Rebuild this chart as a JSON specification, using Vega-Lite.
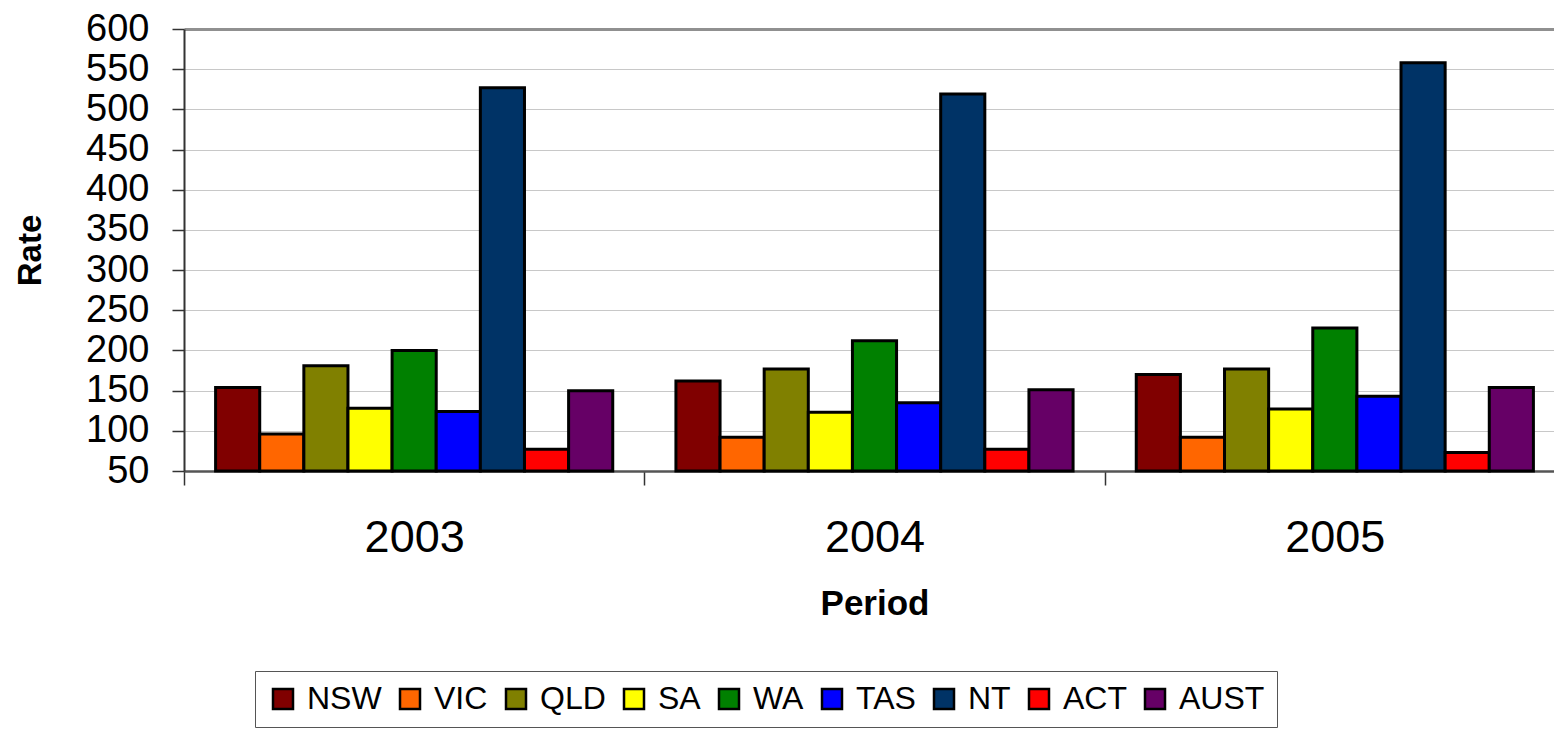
{
  "$schema": "https://vega.github.io/schema/vega-lite/v6.json",
  "autosize": {"type": "none"},
  "width": 1370,
  "height": 442,
  "padding": {"left": 184, "top": 29, "right": 0, "bottom": 261},
  "background": "white",
  "config": {
    "font": "Liberation Sans",
    "view": {"stroke": null}
  },
  "data": {
    "values": [
      {"period": "2003", "state": "NSW", "rate": 154},
      {"period": "2003", "state": "VIC", "rate": 96},
      {"period": "2003", "state": "QLD", "rate": 181},
      {"period": "2003", "state": "SA", "rate": 128},
      {"period": "2003", "state": "WA", "rate": 200},
      {"period": "2003", "state": "TAS", "rate": 124},
      {"period": "2003", "state": "NT", "rate": 527},
      {"period": "2003", "state": "ACT", "rate": 77},
      {"period": "2003", "state": "AUST", "rate": 150},
      {"period": "2004", "state": "NSW", "rate": 162},
      {"period": "2004", "state": "VIC", "rate": 92},
      {"period": "2004", "state": "QLD", "rate": 177},
      {"period": "2004", "state": "SA", "rate": 123},
      {"period": "2004", "state": "WA", "rate": 212},
      {"period": "2004", "state": "TAS", "rate": 135},
      {"period": "2004", "state": "NT", "rate": 519},
      {"period": "2004", "state": "ACT", "rate": 77},
      {"period": "2004", "state": "AUST", "rate": 151},
      {"period": "2005", "state": "NSW", "rate": 170},
      {"period": "2005", "state": "VIC", "rate": 92},
      {"period": "2005", "state": "QLD", "rate": 177},
      {"period": "2005", "state": "SA", "rate": 127},
      {"period": "2005", "state": "WA", "rate": 228},
      {"period": "2005", "state": "TAS", "rate": 143},
      {"period": "2005", "state": "NT", "rate": 558},
      {"period": "2005", "state": "ACT", "rate": 73},
      {"period": "2005", "state": "AUST", "rate": 154}
    ]
  },
  "mark": {"type": "bar", "stroke": "black", "strokeWidth": 3},
  "encoding": {
    "x": {
      "field": "period",
      "type": "nominal",
      "scale": {"range": [0, 1381], "paddingInner": 0, "paddingOuter": 0},
      "axis": {
        "title": "Period",
        "titleFont": "Liberation Sans",
        "titleFontSize": 35,
        "titleFontWeight": "bold",
        "titleColor": "black",
        "titlePadding": 26,
        "labelAngle": 0,
        "labelFontSize": 45,
        "labelColor": "black",
        "labelPadding": 30,
        "tickSize": 14,
        "tickBand": "extent",
        "tickColor": "#333333",
        "tickWidth": 1.5,
        "domainColor": "#555555",
        "domainWidth": 2.5
      }
    },
    "xOffset": {
      "field": "state",
      "type": "nominal",
      "sort": ["NSW", "VIC", "QLD", "SA", "WA", "TAS", "NT", "ACT", "AUST"],
      "scale": {"paddingInner": 0, "paddingOuter": 0.716}
    },
    "y": {
      "field": "rate",
      "type": "quantitative",
      "scale": {"domain": [50, 600], "nice": false, "zero": false},
      "axis": {
        "title": "Rate",
        "titleFontSize": 33,
        "titleFontWeight": "bold",
        "titleColor": "black",
        "titlePadding": 38,
        "values": [50, 100, 150, 200, 250, 300, 350, 400, 450, 500, 550, 600],
        "labelFontSize": 38,
        "labelColor": "black",
        "labelOverlap": false,
        "labelPadding": 23,
        "tickSize": 12,
        "tickColor": "#333333",
        "tickWidth": 1.5,
        "domainColor": "#333333",
        "domainWidth": 2,
        "grid": true,
        "gridColor": {"condition": {"test": "datum.value === 600", "value": "#909090"}, "value": "#c8c8c8"},
        "gridWidth": {"condition": {"test": "datum.value === 600", "value": 3}, "value": 1}
      }
    },
    "y2": {"datum": 50},
    "color": {
      "field": "state",
      "type": "nominal",
      "sort": ["NSW", "VIC", "QLD", "SA", "WA", "TAS", "NT", "ACT", "AUST"],
      "scale": {
        "domain": ["NSW", "VIC", "QLD", "SA", "WA", "TAS", "NT", "ACT", "AUST"],
        "range": ["#800000", "#FF6600", "#808000", "#FFFF00", "#008000", "#0000FF", "#003366", "#FF0000", "#660066"]
      },
      "legend": {
        "title": null,
        "orient": "none",
        "legendX": 71,
        "legendY": 642,
        "direction": "horizontal",
        "columns": 9,
        "symbolType": "square",
        "symbolSize": 400,
        "symbolStrokeColor": "black",
        "symbolStrokeWidth": 2.5,
        "labelFontSize": 32,
        "labelColor": "black",
        "labelOffset": 8,
        "columnPadding": 12,
        "labelLimit": 300,
        "padding": 12,
        "strokeColor": "#555555",
        "fillColor": "white"
      }
    }
  }
}
